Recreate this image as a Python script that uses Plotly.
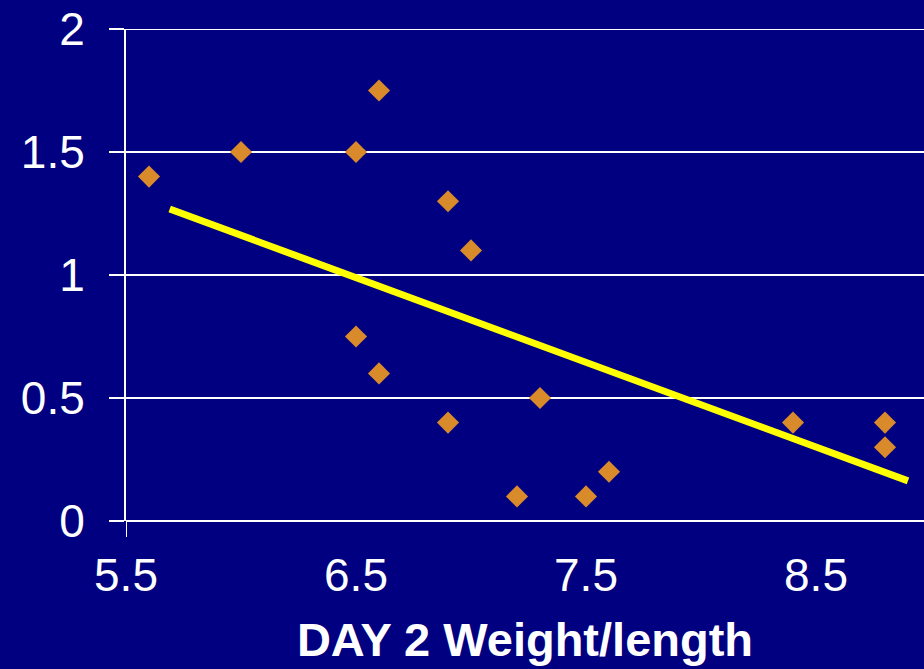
import plotly.graph_objects as go

# Data
weight_length = [5.6, 6.0, 6.5, 6.6, 6.9, 7.0, 6.5, 6.6, 6.9, 7.3, 7.2, 7.5, 7.6, 8.4, 8.8, 8.8]
values = [1.4, 1.5, 1.5, 1.75, 1.3, 1.1, 0.75, 0.6, 0.4, 0.5, 0.1, 0.1, 0.2, 0.4, 0.4, 0.3]
trend_x = [5.69, 8.9]
trend_y = [1.268, 0.163]
x_ticks = [5.5, 6.5, 7.5, 8.5]
x_tick_labels = ["5.5", "6.5", "7.5", "8.5"]
y_ticks = [0, 0.5, 1, 1.5, 2]
y_tick_labels = ["0", "0.5", "1", "1.5", "2"]

BG = "#000080"
FONT = "Liberation Sans, Arial, sans-serif"

fig = go.Figure()
fig.add_trace(go.Scatter(
    x=trend_x, y=trend_y, mode="lines",
    line=dict(color="#FFFF00", width=7), hoverinfo="skip", showlegend=False,
))
fig.add_trace(go.Scatter(
    x=weight_length, y=values, mode="markers",
    marker=dict(symbol="diamond", size=17, color="#D98A2B",
                line=dict(width=0)),
    showlegend=False,
))

fig.update_layout(
    width=924, height=669,
    paper_bgcolor=BG, plot_bgcolor=BG,
    margin=dict(l=126, r=0, t=29, b=148),
    font=dict(family=FONT, color="white", size=46),
    xaxis=dict(
        range=[5.5, 5.5 + 798 / 230],
        tickvals=x_ticks, ticktext=x_tick_labels,
        showgrid=False, zeroline=False, showline=False,
        ticks="", ticklabelstandoff=23,
        tickfont=dict(size=46, family=FONT, color="white"),
        title=dict(text="<b>DAY 2 Weight/length</b>", standoff=23,
                   font=dict(size=47, family=FONT, color="white")),
    ),
    yaxis=dict(
        range=[0, 2],
        tickvals=y_ticks, ticktext=y_tick_labels,
        showgrid=True, gridcolor="white", gridwidth=2,
        zeroline=True, zerolinecolor="white", zerolinewidth=2,
        showline=True, linecolor="white", linewidth=2,
        ticks="outside", ticklen=15, tickwidth=2, tickcolor="white",
        ticklabelstandoff=15,
        tickfont=dict(size=46, family=FONT, color="white"),
    ),
)

# top gridline at the upper edge of the range
fig.add_shape(type="line", xref="paper", yref="y",
              x0=0, x1=1, y0=2, y1=2, layer="below",
              line=dict(color="white", width=2))
# short downward extension of the y axis line below the x axis
fig.add_shape(type="line", xref="x", yref="paper",
              x0=5.5, x1=5.5, y0=0, y1=-16 / 492,
              line=dict(color="white", width=2))

fig.write_html(
    "out.html",
    config={"displayModeBar": False},
    post_script="document.body.style.margin='0';document.body.style.background='#000080';",
)
